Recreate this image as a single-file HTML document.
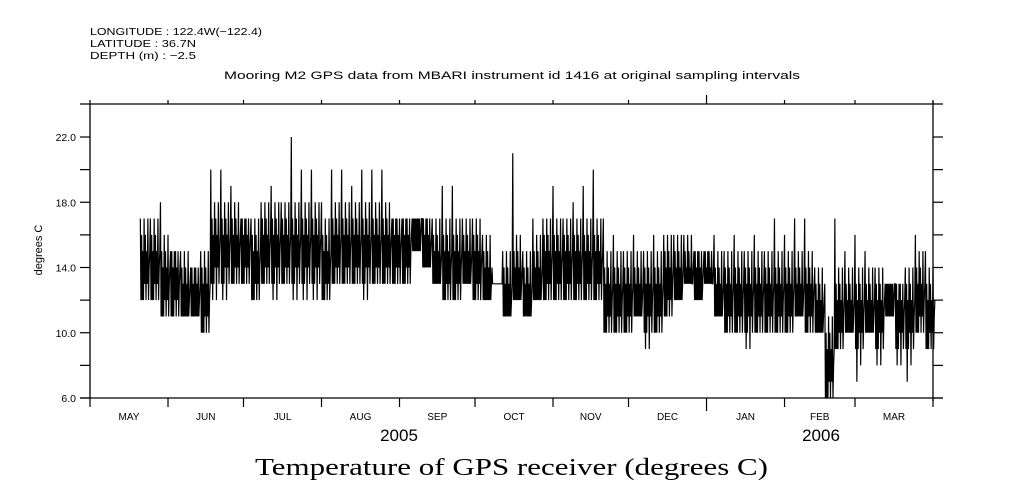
<!DOCTYPE html>
<html><head><meta charset="utf-8"><style>
html,body{margin:0;padding:0;background:#fff;}
svg{display:block;}
text{font-family:"Liberation Sans",sans-serif;fill:#000;}
</style></head><body>
<svg id="chart" width="1009" height="504" viewBox="0 0 1009 504" xmlns="http://www.w3.org/2000/svg">
<g font-size="10.5">
<text x="90" y="35" textLength="172" lengthAdjust="spacingAndGlyphs">LONGITUDE : 122.4W(−122.4)</text>
<text x="90" y="47" textLength="106" lengthAdjust="spacingAndGlyphs">LATITUDE : 36.7N</text>
<text x="90" y="59" textLength="106" lengthAdjust="spacingAndGlyphs">DEPTH (m) : −2.5</text>
</g>
<text x="224" y="79" font-size="11" textLength="576" lengthAdjust="spacingAndGlyphs">Mooring M2 GPS data from MBARI instrument id 1416 at original sampling intervals</text>
<text transform="translate(42,250) rotate(-90)" font-size="11" text-anchor="middle">degrees C</text>
<g id="axes"></g>
<g id="series"></g>
<text x="399" y="441" font-size="17" text-anchor="middle">2005</text>
<text x="821" y="441" font-size="17" text-anchor="middle">2006</text>
<text x="255" y="475" font-size="24" textLength="513" lengthAdjust="spacingAndGlyphs" style="font-family:'Liberation Serif',serif">Temperature of GPS receiver (degrees C)</text>
</svg>
<script>
const monthLabels=["MAY","JUN","JUL","AUG","SEP","OCT","NOV","DEC","JAN","FEB","MAR"];
const monthStartDays=[0,31,61,92,123,153,184,214,245,276,304,335];
const yTicks=[6,8,10,12,14,16,18,20,22];
const yLabels=["6.0","","10.0","","14.0","","18.0","","22.0"];
const binStartDay=20;
const binDays=4;
const hiVals=[17,17,18,15,15,14,15,20,20,19,17,17,18,19,18,22,20,20,18,20,20,19,20,20,20,17,17,17,17,17,19,19,17,17,16,13,15,21,15,17,17,19,17,18,19,20,17,16,15,16,15,16,16,16,16,15,15,16,15,16,15,16,15,17,16,17,17,14,13,17,15,16,15,14,13,13,14,16,15];
const loVals=[12,12,11,11,11,11,10,12,12,13,13,12,13,12,13,12,12,12,12,13,13,13,12,13,13,13,13,15,14,13,12,12,13,12,12,13,11,12,11,12,12,12,12,12,12,12,10,10,10,11,9,10,11,12,13,12,13,11,10,10,9,10,10,10,10,11,10,10,6,9,10,7,10,8,11,8,7,10,9];
const typVals=[14,14,13,13,12,12,12,15,15,15,15,14,15,15,15,15,15,15,14,15,15,15,15,15,15,15,15,16,15,14,14,14,14,14,13,13,12,13,12,13,14,14,14,14,14,14,12,12,12,12,12,12,13,13,13,13,13,12,12,12,12,12,12,12,12,12,12,11,8,11,11,11,11,11,12,11,11,12,11];
const X0=90,X1=933,Y0=398,Y1=104;
const totalDays=335;
function xs(d){return X0+d*(X1-X0)/totalDays;}
function ys(v){return Y0-(v-6)*(398-137)/16;}
const NS="http://www.w3.org/2000/svg";
function mk(tag,attrs,parent){const e=document.createElementNS(NS,tag);for(const k in attrs)e.setAttribute(k,attrs[k]);parent.appendChild(e);return e;}
const ax=document.getElementById('axes');
let e;
e=mk('path',{d:`M80 ${Y1}H943M${X0} ${Y1}V${Y0}M80 ${Y0}H943M${X1} ${Y1-3}V${Y0+3}`,stroke:'#000','stroke-width':1.3,fill:'none'},ax);


yTicks.forEach((v,i)=>{
 const y=ys(v);
 let t=mk('line',{x1:80,x2:X0,y1:y,y2:y,stroke:'#000','stroke-width':1.2},ax);
 
 
 let r=mk('line',{x1:X1,x2:943,y1:y,y2:y,stroke:'#000','stroke-width':1.2},ax);
 
 
 if(yLabels[i]){
  let l=mk('text',{x:76,y:y+4,'font-size':10.5,'text-anchor':'end'},ax);
  l.textContent=yLabels[i];
  
  
 }
});
monthStartDays.forEach((d,i)=>{
 const x=xs(d);
 const big=(d===245);
 let t=mk('line',{x1:x,x2:x,y1:Y0,y2:Y0+(big?13:9),stroke:'#000','stroke-width':1.2},ax);
 
 
 let tt=mk('line',{x1:x,x2:x,y1:Y1,y2:Y1-(big?9:4),stroke:'#000','stroke-width':1.2},ax);
 
 
 if(i<monthLabels.length){
  const xm=xs((d+monthStartDays[i+1])/2);
  let l=mk('text',{x:xm,y:420,'font-size':10,'text-anchor':'middle'},ax);
  l.textContent=monthLabels[i];
  
  
 }
});
// series: dense zigzag within each bin spreading across hi/lo/typical values
const pts=[];
const offs=[99,-2,2,-99,1,-2,3,-1,2,-3,1,-1,3,-2,0,1];
const N=offs.length;
hiVals.forEach((h,i)=>{
 const lo=loVals[i],ty=typVals[i];
 for(let k=0;k<N;k++){
  const d=binStartDay+i*binDays+k*binDays/N;
  const v=Math.max(lo,Math.min(h,ty+offs[k]));
  pts.push(xs(d).toFixed(2)+','+ys(v).toFixed(2));
 }
});
const sg=document.getElementById('series');
e=mk('polyline',{points:pts.join(' '),fill:'none',stroke:'#000','stroke-width':1.2},sg);


</script>
</body></html>
